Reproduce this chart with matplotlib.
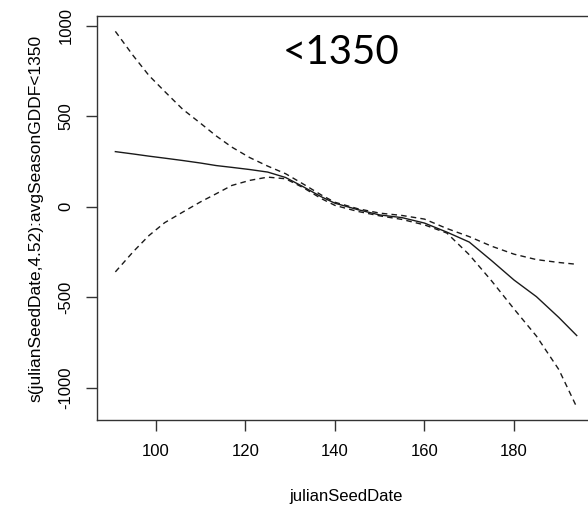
import matplotlib.pyplot as plt

# values (mgcv-style smooth with +/- 2 se bands)
seed_date = [91, 95, 98.5, 102, 106, 110, 113.5, 117, 121, 125, 129, 133, 137,
             140, 145, 150, 155, 160, 165, 170, 175, 180, 185, 190, 194]
fit = [305, 292, 280, 269, 256, 242, 228, 218, 206, 192, 162, 110, 55,
       20, -15, -45, -60, -90, -140, -195, -298, -405, -497, -612, -712]
upper = [970, 835, 726, 638, 540, 462, 392, 330, 272, 225, 183, 125, 65,
         25, -10, -35, -48, -68, -120, -165, -218, -262, -292, -308, -318]
lower = [-360, -248, -159, -88, -30, 27, 72, 118, 146, 164, 155, 105, 45,
         8, -25, -50, -70, -100, -145, -265, -410, -565, -715, -900, -1108]

x_ticks = [100, 120, 140, 160, 180]
y_ticks = [-1000, -500, 0, 500, 1000]

plt.rcParams['font.family'] = ['Liberation Sans', 'DejaVu Sans']
plt.rcParams['axes.unicode_minus'] = False

fig = plt.figure(figsize=(5.88, 5.08), dpi=100)
ax = fig.add_axes([97 / 588, 88 / 508, 499 / 588, 404 / 508])

ax.plot(seed_date, fit, color='#1a1a1a', lw=1.0)
ax.plot(seed_date, upper, color='#1a1a1a', lw=1.0, dashes=(4, 3))
ax.plot(seed_date, lower, color='#1a1a1a', lw=1.0, dashes=(4, 3))

ax.set_xlim(86.9, 198.3)
ax.set_ylim(-1179, 1055)
ax.set_xticks(x_ticks)
ax.set_yticks(y_ticks)
ax.tick_params(length=8, width=1, color='#333333', labelsize=12, pad=9)
plt.setp(ax.get_yticklabels(), rotation=90, va='center')
for s in ax.spines.values():
    s.set_color('#333333')
    s.set_linewidth(1)

ax.set_xlabel('julianSeedDate', fontsize=12, labelpad=22)
ax.set_ylabel('s(julianSeedDate,4.52):avgSeasonGDDF<1350', fontsize=12.5, labelpad=11)

ax.text(0.49, 0.91, '<1350', transform=ax.transAxes, ha='center', va='center',
        fontsize=29, family=['Lato', 'DejaVu Sans'])

fig.savefig('out.png', dpi=100)
